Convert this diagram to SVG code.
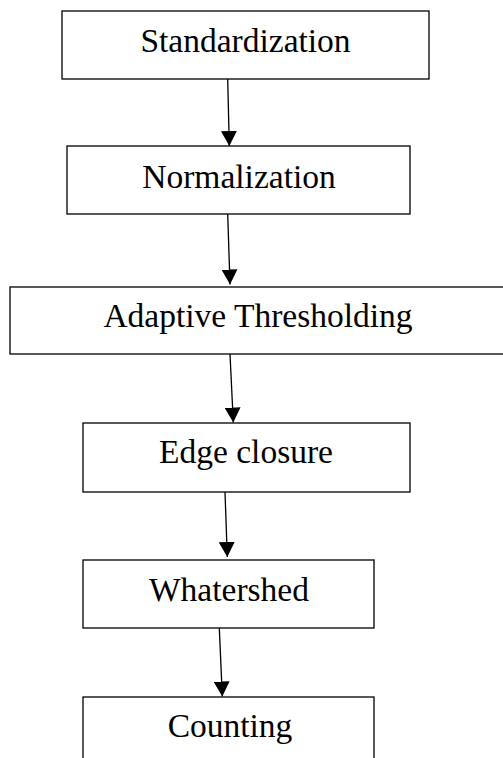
<svg xmlns="http://www.w3.org/2000/svg" width="503" height="758" viewBox="0 0 503 758">
<style>
.box{fill:#fff;stroke:#000;stroke-width:1.3}
.lbl{font-family:"Liberation Serif","Times New Roman",serif;font-size:33.5px;fill:#000;text-anchor:middle}
.con{stroke:#000;stroke-width:1.3;fill:none;marker-end:url(#ah)}
</style>
<defs>
<marker id="ah" viewBox="0 0 15 16" refX="15" refY="8" markerWidth="15" markerHeight="16" markerUnits="userSpaceOnUse" orient="auto">
<path d="M0,0 L15,8 L0,16 z" fill="#000"/>
</marker>
</defs>
<rect width="503" height="758" fill="#fff"/>
<g id="n1"><rect class="box" x="62" y="11" width="367" height="68"/><text class="lbl" x="245.5" y="52">Standardization</text></g>
<g id="n2"><rect class="box" x="67" y="146" width="343" height="68"/><text class="lbl" x="239" y="188">Normalization</text></g>
<g id="n3"><rect class="box" x="10" y="287" width="500" height="67"/><text class="lbl" x="258" y="327">Adaptive Thresholding</text></g>
<g id="n4"><rect class="box" x="83" y="423" width="327" height="69"/><text class="lbl" x="246" y="463">Edge closure</text></g>
<g id="n5"><rect class="box" x="83" y="560" width="291" height="68"/><text class="lbl" x="229" y="601">Whatershed</text></g>
<g id="n6"><rect class="box" x="83" y="697" width="291" height="80"/><text class="lbl" x="230" y="737">Counting</text></g>
<g id="connectors">
<line class="con" x1="227.7" y1="79" x2="229.3" y2="146"/>
<line class="con" x1="227.7" y1="214" x2="230" y2="284.5"/>
<line class="con" x1="230" y1="354" x2="233.3" y2="422.5"/>
<line class="con" x1="225" y1="492" x2="227.3" y2="557"/>
<line class="con" x1="219.3" y1="628" x2="222.3" y2="696.5"/>
</g>
</svg>
